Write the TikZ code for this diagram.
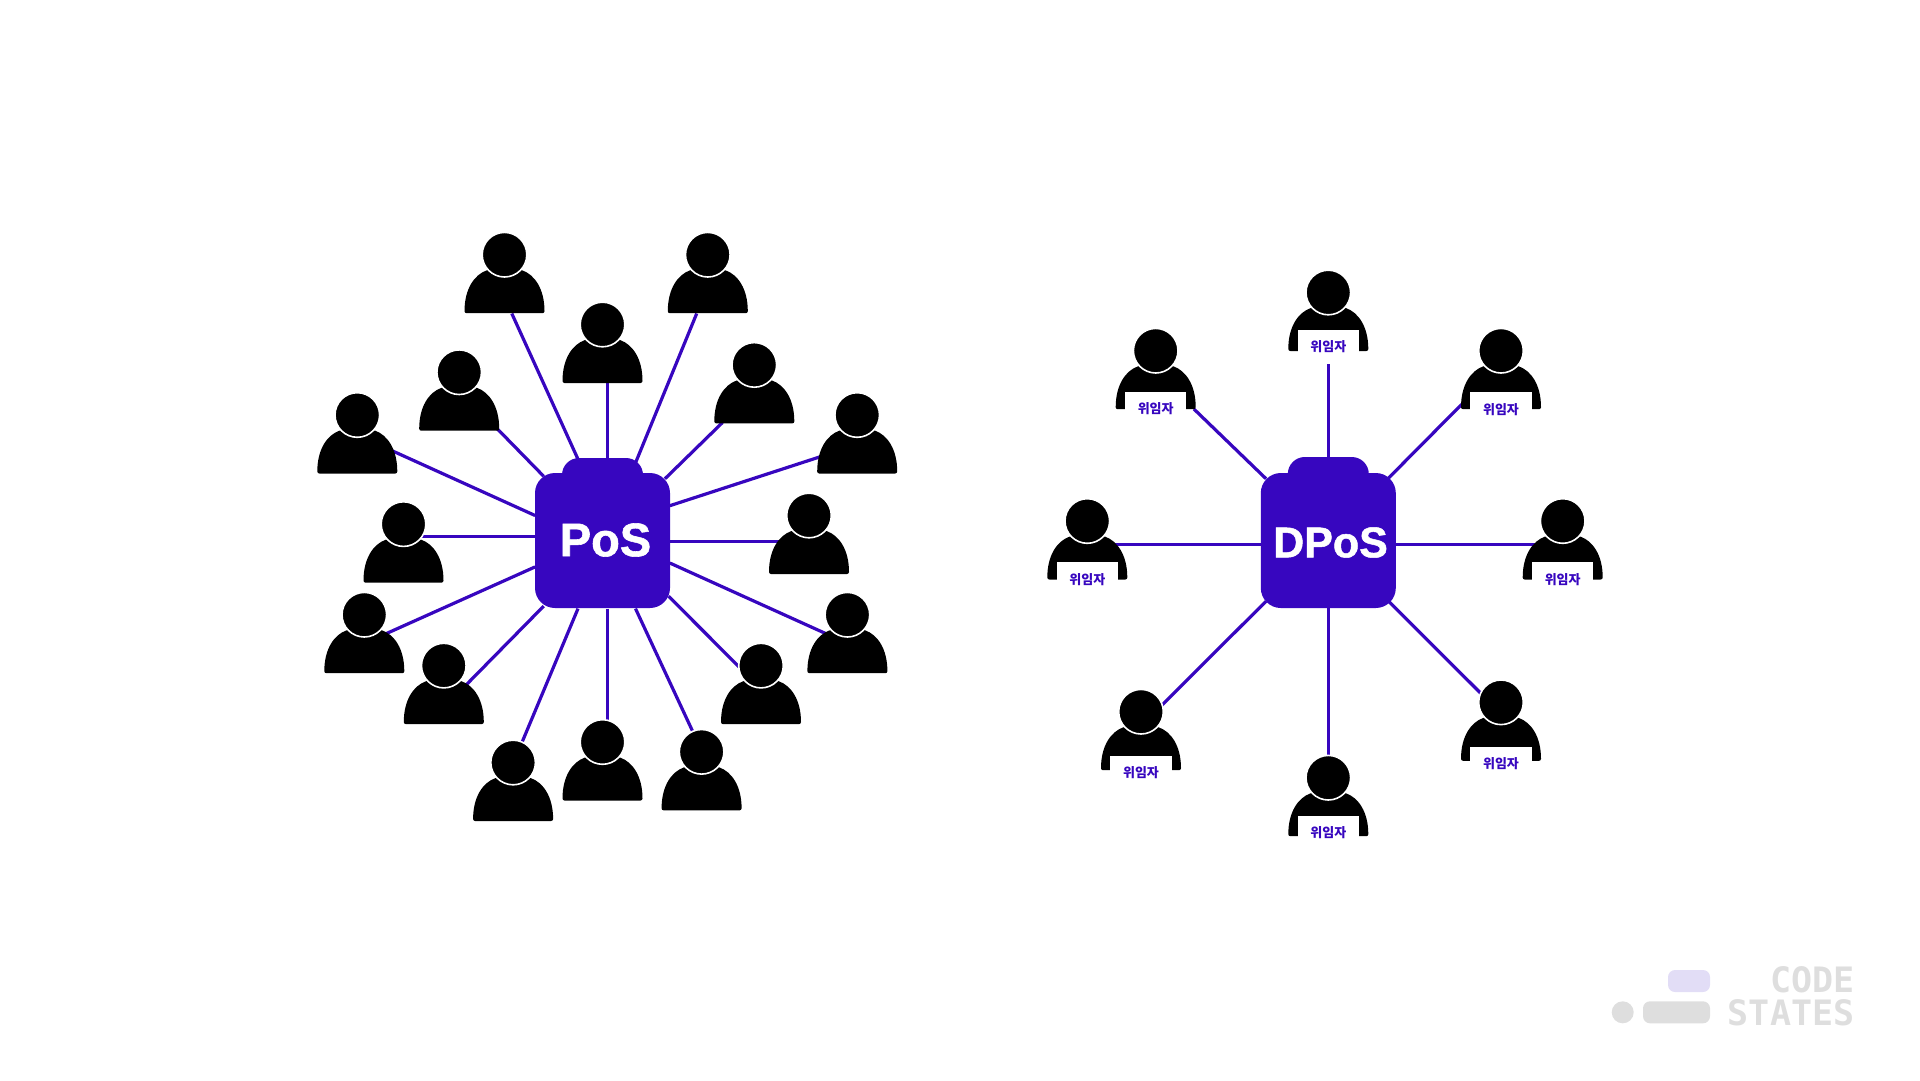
\documentclass[tikz,border=0pt]{standalone}
\usepackage{fontspec}
\setmainfont{Liberation Sans}
\newfontfamily\hubfont{Liberation Sans}[BoldFeatures={FakeBold=1.2}]
\newfontfamily\logofont{DejaVu Sans Mono}
\newfontfamily\cjk{Noto Sans CJK KR}
\usetikzlibrary{calc}
\definecolor{hubblue}{HTML}{3706BF}
\definecolor{logogray}{HTML}{DEDEDE}
\definecolor{logoviolet}{HTML}{E2DDF6}
\tikzstyle{link}=[draw=hubblue,line width=3.2pt]
\tikzstyle{head}=[circle,fill=black,draw=white,line width=1.6pt,minimum size=44.6pt,inner sep=0pt]
\tikzstyle{hubbox}=[fill=hubblue,rounded corners=20pt,minimum size=135pt,inner sep=0pt]
\tikzstyle{hubtab}=[fill=hubblue,rounded corners=17pt,minimum width=81pt,minimum height=40pt,inner sep=0pt]
\tikzstyle{hubtext}=[text=white]
\tikzstyle{badge}=[fill=white,minimum width=61.4pt,minimum height=34pt,inner sep=0pt,text=hubblue,font=\cjk\bfseries\fontsize{13}{15}\selectfont]
\tikzstyle{logobar}=[rounded corners=7pt,minimum height=22pt,inner sep=0pt]
\tikzstyle{logotext}=[text=logogray,inner sep=0pt,anchor=east,font=\logofont\bfseries\fontsize{35}{37}\selectfont]
\tikzset{torso/.pic={
    \fill[black,rounded corners=2pt] (-40,58.5) .. controls (-40,34) and (-30,20) .. (-16,15) -- (16,15) .. controls (30,20) and (40,34) .. (40,58.5) -- cycle;
}}

\begin{document}
\begin{tikzpicture}[x=1pt,y=-1pt]
    \useasboundingbox (0,0) rectangle (1920,1080);

    % PoS side: person end / hub end of each link
    \foreach \name/\feet/\hub in {{a1/(511.8,313.5)/(578,459.2)}, {a2/(696.7,313.5)/(635.5,462.9)},
        {a3/(607.4,383.3)/(607.4,459.2)}, {a4/(497.1,428.6)/(543.7,476.3)}, {a5/(722.5,422.5)/(664.9,478.8)},
        {a6/(391.8,450.6)/(535.1,515.5)}, {a7/(820.4,456.7)/(669.8,505.7)}, {a8/(420,536.3)/(535.1,536.3)},
        {a9/(783.7,541.5)/(669.8,541.5)}, {a10/(382,635.5)/(535.1,566.9)}, {a11/(832.7,636.7)/(669.8,563)},
        {a12/(462.9,688.2)/(543.7,606.1)}, {a13/(740.8,668.6)/(668.6,596.3)}, {a14/(521.6,743.3)/(578,608.6)},
        {a15/(607.4,722.5)/(607.4,608.6)}, {a16/(693.1,732.3)/(635.5,608.6)}} {
        \path \feet coordinate (f\name);
        \path \hub coordinate (h\name);
        \path[link] (h\name) -- (f\name);
    }

    % DPoS side
    \foreach \name/\feet/\hub in {{b1/(1328.3,363.3)/(1328.3,459)}, {b2/(1193.9,409)/(1266.1,478.8)},
        {b3/(1461.7,404.3)/(1388.3,478.3)}, {b4/(1108.2,544.6)/(1261.2,544.6)}, {b5/(1540.4,544.6)/(1396,544.6)},
        {b6/(1158,709)/(1266.1,601.2)}, {b7/(1485,697.5)/(1388.6,601.2)}, {b8/(1328.3,765)/(1328.3,608)}} {
        \path \feet coordinate (f\name);
        \path \hub coordinate (h\name);
        \path[link] (h\name) -- (f\name);
    }

    % hubs
    \node[hubtab] (postab) at (602.5,478) {};
    \node[hubbox] (poshub) at (602.5,540.5) {};
    \node[hubtext,font=\hubfont\bfseries\fontsize{47}{50}\selectfont] (postext) at (605.5,540) {PoS};
    \node[hubtab] (dpostab) at (1328.3,477) {};
    \node[hubbox] (dposhub) at (1328.3,540.5) {};
    \node[hubtext,font=\hubfont\bfseries\fontsize{43}{48}\selectfont] (dpostext) at (1330.5,542.5) {DPoS};

    % people
    \foreach \pos/\name in {{(504.5,254.7)/a1}, {(707.8,254.7)/a2}, {(602.5,324.5)/a3}, {(459.2,372.2)/a4},
        {(754.3,364.9)/a5}, {(357.3,415)/a6}, {(857.2,415)/a7}, {(403.5,524.1)/a8}, {(809,515.5)/a9},
        {(364.3,614.7)/a10}, {(847.4,614.7)/a11}, {(443.8,665.6)/a12}, {(761,665.6)/a13},
        {(513.1,762.5)/a14}, {(602.5,742)/a15}, {(701.6,751.8)/a16}} {
        \pic at \pos {torso};
        \node[head] (\name) at \pos {};
    }

    % delegates carry a badge
    \foreach \pos/\name/\drop in {{(1328.3,292.5)/b1/54}, {(1155.7,350.7)/b2/58.3}, {(1501,350.7)/b3/58.6}, {(1087.3,521)/b4/58.3},
        {(1562.7,521)/b5/58.3}, {(1141,711.7)/b6/61}, {(1501,702.3)/b7/61.4}, {(1328.3,777.7)/b8/55.3}} {
        \pic at \pos {torso};
        \node[head] (\name) at \pos {};
        \node[badge] (t\name) at ($(\name)+(0,\drop)$) {위임자};
    }

    % logo
    \node[logobar,fill=logoviolet,minimum width=42pt] (logotop) at (1689,981) {};
    \node[circle,fill=logogray,minimum size=22pt,inner sep=0pt] (logodot) at (1622.7,1012.3) {};
    \node[logobar,fill=logogray,minimum width=67pt] (logobar) at (1676.5,1012.3) {};
    \node[logotext] (logocode) at (1854.5,980) {CODE};
    \node[logotext] (logostates) at (1854.5,1012.5) {STATES};
\end{tikzpicture}
\end{document}
